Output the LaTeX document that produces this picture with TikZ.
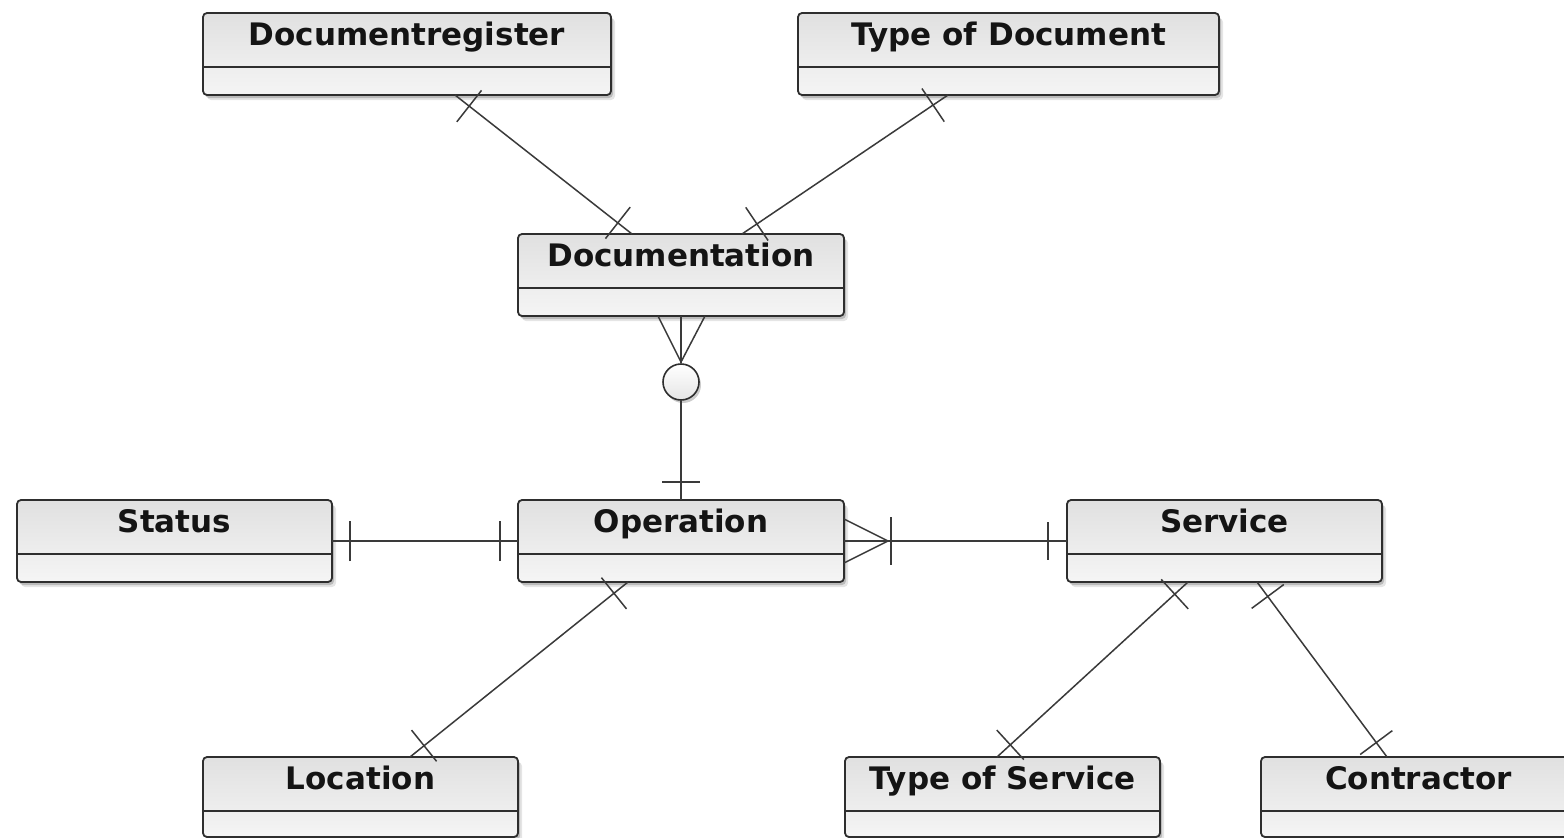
\documentclass[tikz,border=0pt]{standalone}
\usepackage{fontspec}
\setmainfont{DejaVu Sans}
\usetikzlibrary{shadows,decorations.markings,calc}
\definecolor{edge}{HTML}{2E2E2E}
\definecolor{lnk}{HTML}{3A3A3A}
\tikzset{
  entity/.style={draw=edge, line width=1.8pt, rounded corners=4pt,
    top color=black!12, bottom color=black!4,
    general shadow={shadow xshift=4pt, shadow yshift=-5pt, opacity=0.10, fill=black},
    drop shadow={shadow xshift=2pt, shadow yshift=-3pt, opacity=0.18, fill=black},
    inner sep=0pt, outer sep=0pt},
  divider/.style={draw=edge, line width=1.5pt},
  title/.style={font=\bfseries\fontsize{31}{31}\selectfont, text=black!92, anchor=base, inner sep=0pt},
  rel/.style={draw=lnk, line width=1.5pt},
  tickline/.style={draw=lnk, line width=1.5pt},
  bothticks/.style={rel, postaction={decorate}, decoration={markings,
     mark=at position 18pt with {\draw[tickline] (0pt,-20pt) -- (0pt,20pt);},
     mark=at position -18pt with {\draw[tickline] (0pt,-20pt) -- (0pt,20pt);}}},
  endtick/.style={rel, postaction={decorate}, decoration={markings,
     mark=at position -18pt with {\draw[tickline] (0pt,-19pt) -- (0pt,19pt);}}},
  optcircle/.style={circle, draw=edge, line width=1.6pt, minimum size=36pt, inner sep=0pt,
    top color=white, bottom color=black!10,
    drop shadow={shadow xshift=2pt, shadow yshift=-3pt, opacity=0.2, fill=black}},
}
\newcommand\ent[6]{%
  \node[entity, minimum width=#4pt, minimum height=#5pt, anchor=north west] (#1) at (#2,#3) {};
  \draw[divider] ([yshift=-54pt]#1.north west) -- ([yshift=-54pt]#1.north east);
  \node[title] (#1-t) at ([yshift=-32pt]#1.north) {#6};
}
\begin{document}
\begin{tikzpicture}[x=1pt,y=-1pt]
\useasboundingbox[fill=white] (0,0) rectangle (1564,838);
% entities
\ent{docreg}{203}{13}{408}{82}{Documentregister}
\ent{typedoc}{798}{13}{421}{82}{Type of Document}
\ent{docu}{518}{234}{326}{82}{Documentation}
\ent{status}{17}{500}{315}{82}{Status}
\ent{oper}{518}{500}{326}{82}{Operation}
\ent{serv}{1067}{500}{315}{82}{Service}
\ent{loc}{203}{757}{315}{80}{Location}
\ent{tos}{845}{757}{315}{80}{Type of Service}
\ent{con}{1261}{757}{315}{80}{Contractor}
% one-to-one diagonal relations
\draw[bothticks] ([xshift=252pt]docreg.south west) -- ([xshift=114pt]docu.north west);
\draw[bothticks] ([xshift=150pt]typedoc.south west) -- ([xshift=224pt]docu.north west);
\draw[bothticks] ([xshift=110pt]oper.south west) -- ([xshift=207pt]loc.north west);
\draw[bothticks] ([xshift=121pt]serv.south west) -- ([xshift=152pt]tos.north west);
\draw[bothticks] ([xshift=190pt]serv.south west) -- ([xshift=126pt]con.north west);
% status - operation
\draw[bothticks] (status.east) -- (oper.west);
% operation - service (many to one)
\draw[rel] (oper.east) -- (serv.west);
\draw[rel] ([yshift=22pt]oper.east) -- ([xshift=44pt]oper.east) -- ([yshift=-22pt]oper.east);
\draw[tickline] ([xshift=47pt,yshift=24pt]oper.east) -- ([xshift=47pt,yshift=-24pt]oper.east);
\draw[tickline] ([xshift=-19pt,yshift=19pt]serv.west) -- ([xshift=-19pt,yshift=-19pt]serv.west);
% documentation - operation (zero or many to one)
\node[optcircle] (opt) at ([yshift=-66pt]docu.south) {};
\draw[rel] (docu.south) -- (opt.north);
\draw[rel] ([xshift=-23pt]docu.south) -- ([yshift=-46pt]docu.south) -- ([xshift=24pt]docu.south);
\draw[endtick] (opt.south) -- (oper.north);
\end{tikzpicture}
\end{document}
